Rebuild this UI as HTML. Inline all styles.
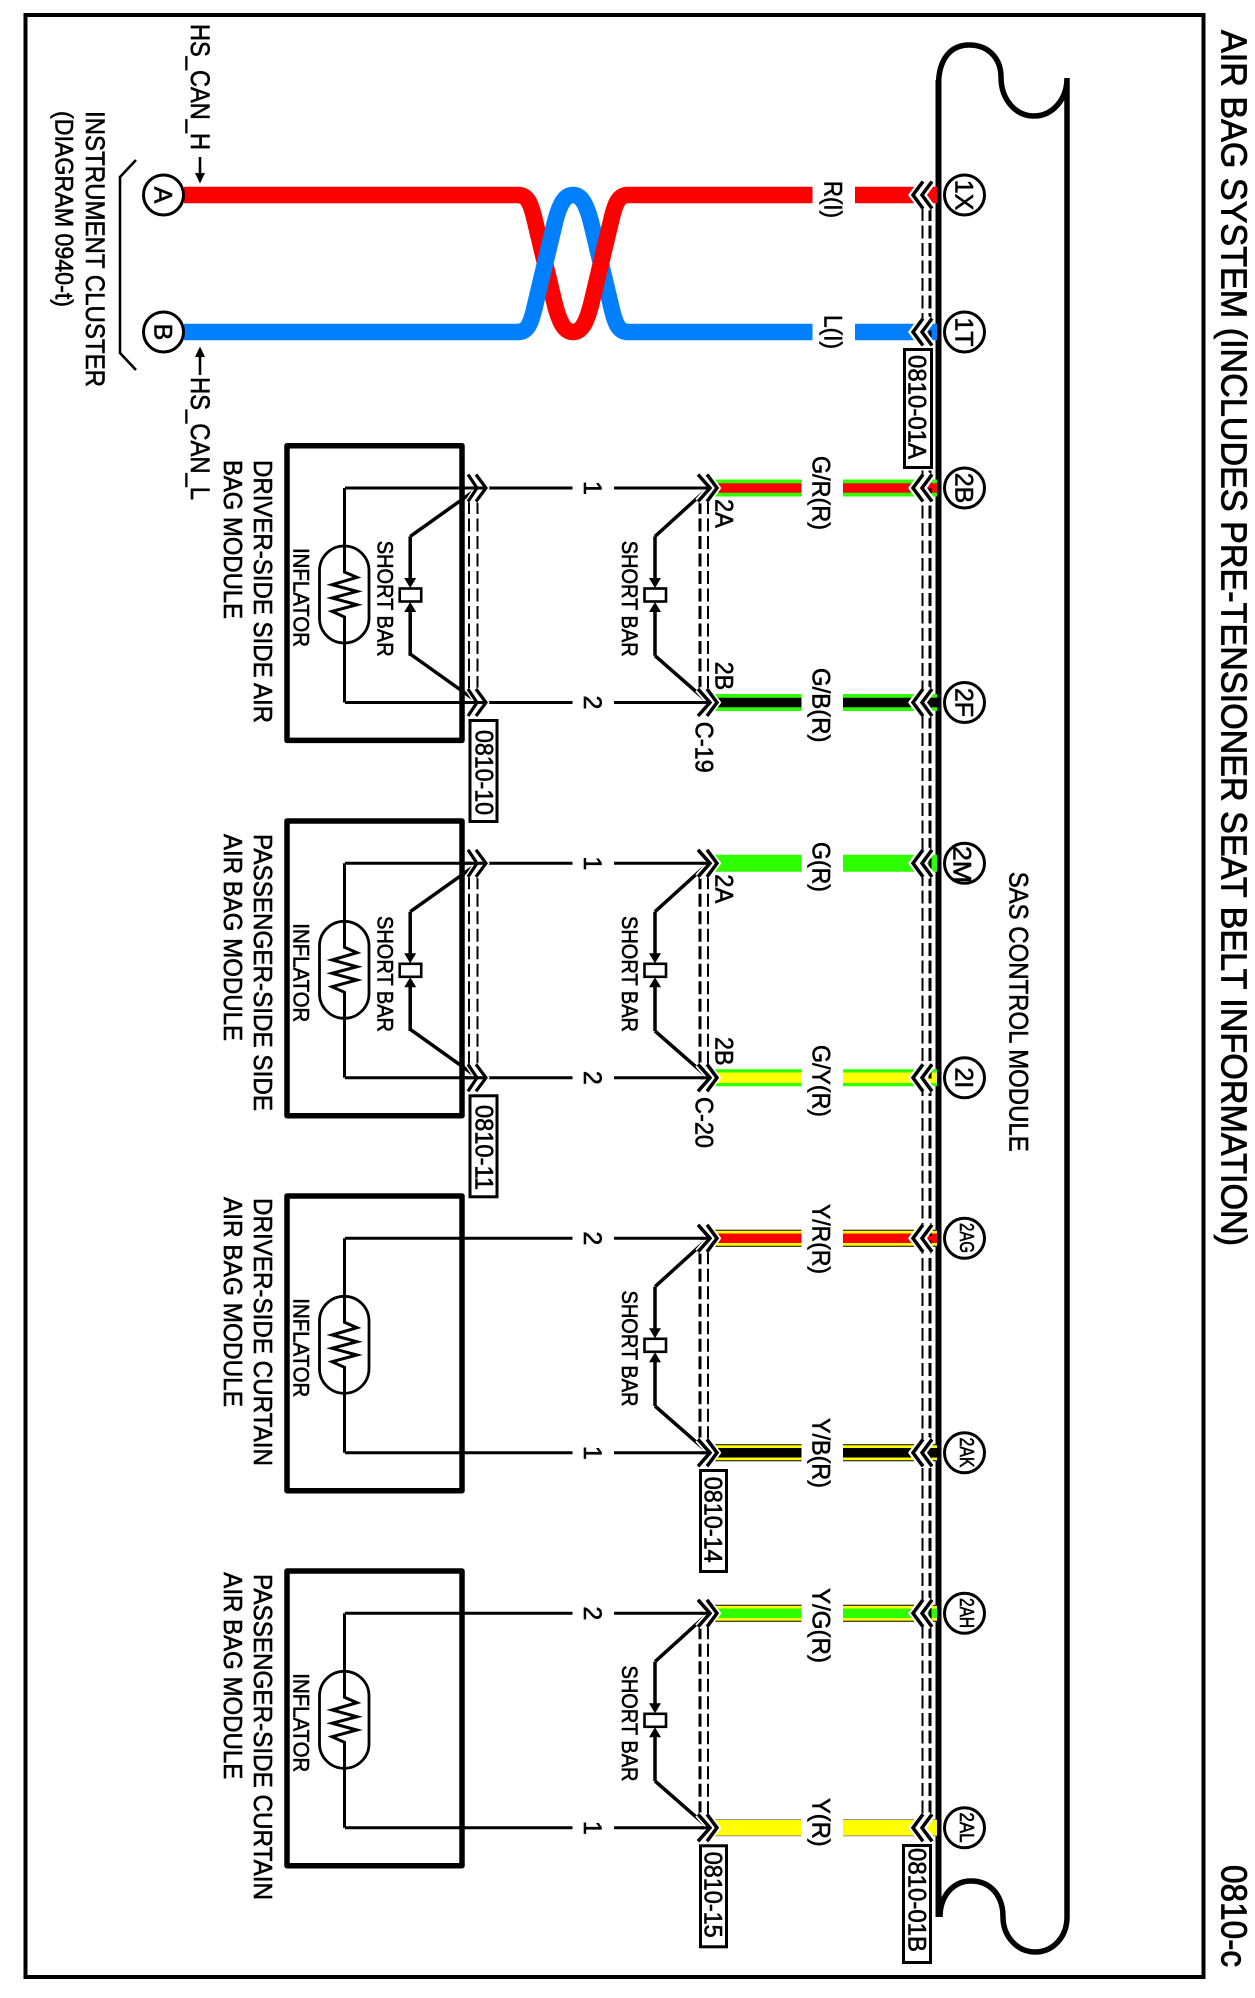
<!DOCTYPE html>
<html><head><meta charset="utf-8"><title>Air Bag System 0810-c</title>
<style>html,body{margin:0;padding:0;background:#fff}svg{display:block}
text{font-family:"Liberation Sans",sans-serif;fill:#000;stroke:#000;stroke-width:.6}
</style></head><body>
<svg xmlns="http://www.w3.org/2000/svg" width="1255" height="1998" viewBox="0 0 1255 1998">
<defs>
<g id="cr"><path d="M923-13.5 913 0 923 13.5M932-13.5 922 0 932 13.5" fill="none" stroke="#fff" stroke-width="8"/><path d="M923-13.5 913 0 923 13.5M932-13.5 922 0 932 13.5" fill="none" stroke="#000" stroke-width="3.5"/></g>
<g id="cl"><path d="M698-13.5 710 0 698 13.5M707-13.5 717 0 707 13.5" fill="none" stroke="#fff" stroke-width="7"/><path d="M700 0H710" stroke="#000" stroke-width="3"/><path d="M698-13.5 710 0 698 13.5M707-13.5 717 0 707 13.5" fill="none" stroke="#000" stroke-width="3.5"/></g>
<g id="cm"><path d="M468-13.5 477 0 468 13.5M476-13.5 486 0 476 13.5" fill="none" stroke="#fff" stroke-width="6"/><path d="M465 0H486" stroke="#000" stroke-width="3"/><path d="M468-13.5 477 0 468 13.5M476-13.5 486 0 476 13.5" fill="none" stroke="#000" stroke-width="3.2"/></g>
<g id="sb"><path d="M655 48.4V92M655 167.7V122" fill="none" stroke="#000" stroke-width="3.5"/><path d="M649 90H661L655 100ZM649 124H661L655 114Z" fill="#000"/><rect x="644.5" y="100.5" width="21.5" height="13" fill="#fff" stroke="#000" stroke-width="2.6"/></g>
<g id="box"><rect x="287" y="-42.3" width="175" height="294.7" fill="none" stroke="#000" stroke-width="5.5" stroke-linejoin="round"/></g>
<g id="inf"><rect x="319.5" y="58" width="49.5" height="97" rx="24.7" fill="none" stroke="#000" stroke-width="2.8"/><path d="M344.5 0V84L357 89.4 332 96.7 357 103.4 332 110 357 116.7 332 123.4 344.5 129V214.5" fill="none" stroke="#000" stroke-width="3"/></g>
</defs>

<rect x="25.5" y="15" width="1178" height="1962" fill="none" stroke="#000" stroke-width="4"/>

<!-- title -->
<text transform="translate(1221.5 30) rotate(90)" font-size="36" textLength="1216" lengthAdjust="spacingAndGlyphs" style="stroke-width:.8">AIR BAG SYSTEM (INCLUDES PRE-TENSIONER SEAT BELT INFORMATION)</text>
<text transform="translate(1221.5 1865) rotate(90)" font-size="36" textLength="102" lengthAdjust="spacingAndGlyphs" style="stroke-width:.8">0810-c</text>

<!-- SAS module body -->
<path d="M938.5 1917V85C938.5 60 950 45 969 45 990 45 1001 60 1001 77 1001 100 1016 116 1034 116 1052 116 1067 100 1067 78V1917C1067 1937 1053 1952 1035 1952 1018 1952 1003 1937 1003 1917 1003 1895 990 1881 971 1881 954 1881 940 1895 940 1917" fill="none" stroke="#000" stroke-width="5.5"/>
<path d="M938.5 80V1917" fill="none" stroke="#000" stroke-width="6"/>
<text transform="translate(1009.5 871.7) rotate(90)" font-size="27" textLength="280" lengthAdjust="spacingAndGlyphs">SAS CONTROL MODULE</text>

<!-- twisted CAN wires -->
<path d="M184 332H518C528 332 531 322 534 310L555 222C560 203 565 195 573 195 581 195 586 203 591 222L612 310C615 322 618 332 628 332H812.5M855 332H937" fill="none" stroke="#0080ff" stroke-width="16.5"/>
<path d="M184 195H518C528 195 531 205 534 217L555 305C560 324 565 332 573 332 581 332 586 324 591 305L612 217C615 205 618 195 628 195H812.5M855 195H937" fill="none" stroke="#f00" stroke-width="16.5"/>
<path d="M534 310L555 222" fill="none" stroke="#0080ff" stroke-width="16.5"/>

<!-- coloured wires -->
<g fill="none">
<path d="M715 488H801.5M843 488H937" stroke="#2eff00" stroke-width="17"/><path d="M715 488H801.5M843 488H937" stroke="#f00" stroke-width="9.5"/>
<path d="M715 702.5H801.5M843 702.5H937" stroke="#2eff00" stroke-width="17"/><path d="M715 702.5H801.5M843 702.5H937" stroke="#000" stroke-width="9.5"/>
<path d="M715 863.3H801.5M843 863.3H937" stroke="#2eff00" stroke-width="17"/>
<path d="M715 1077.8H801.5M843 1077.8H937" stroke="#2eff00" stroke-width="17"/><path d="M715 1077.8H801.5M843 1077.8H937" stroke="#ff0" stroke-width="10.5"/>
<path d="M715 1238.3H801.5M843 1238.3H937" stroke="#000" stroke-width="17"/><path d="M715 1238.3H801.5M843 1238.3H937" stroke="#ff0" stroke-width="15"/><path d="M715 1238.3H801.5M843 1238.3H937" stroke="#f00" stroke-width="9.5"/>
<path d="M715 1452.8H801.5M843 1452.8H937" stroke="#000" stroke-width="17"/><path d="M715 1452.8H801.5M843 1452.8H937" stroke="#ff0" stroke-width="15"/><path d="M715 1452.8H801.5M843 1452.8H937" stroke="#000" stroke-width="9.5"/>
<path d="M715 1613.3H801.5M843 1613.3H937" stroke="#000" stroke-width="17"/><path d="M715 1613.3H801.5M843 1613.3H937" stroke="#ff0" stroke-width="15"/><path d="M715 1613.3H801.5M843 1613.3H937" stroke="#2eff00" stroke-width="9.5"/>
<path d="M715 1827.8H801.5M843 1827.8H937" stroke="#777" stroke-width="17"/><path d="M715 1827.8H801.5M843 1827.8H937" stroke="#ff0" stroke-width="15.5"/>
</g>

<!-- right shield -->
<path d="M922.5 208V1815" fill="none" stroke="#000" stroke-width="2" stroke-dasharray="13 4.5"/>
<path d="M930 208V1815" fill="none" stroke="#000" stroke-width="3" stroke-dasharray="13 4.5"/>

<!-- right connectors -->
<use href="#cr" y="195"/><use href="#cr" y="332"/><use href="#cr" y="488"/><use href="#cr" y="702.5"/>
<use href="#cr" y="863.3"/><use href="#cr" y="1077.8"/><use href="#cr" y="1238.3"/><use href="#cr" y="1452.8"/>
<use href="#cr" y="1613.3"/><use href="#cr" y="1827.8"/>

<!-- module groups -->
<g transform="translate(0 488)"><use href="#box"/><use href="#inf"/>
<path d="M345 0H572.5M614 0H705M345 214.5H572.5M614 214.5H705" fill="none" stroke="#000" stroke-width="3"/>
<path d="M469 13V201" fill="none" stroke="#000" stroke-width="2" stroke-dasharray="13 4.5"/><path d="M477.5 13V201" fill="none" stroke="#000" stroke-width="2" stroke-dasharray="13 4.5"/>
<path d="M410.2 48.4L474 3M410.2 166L474 211.5" fill="none" stroke="#000" stroke-width="3.5"/>
<use href="#sb" x="-244.8"/>
<path d="M700 13V201" fill="none" stroke="#000" stroke-width="3" stroke-dasharray="13 4.5"/><path d="M708 13V201" fill="none" stroke="#000" stroke-width="2" stroke-dasharray="13 4.5"/>
<path d="M655 48.4L705 3M655 167.7L705 211.5" fill="none" stroke="#000" stroke-width="3.5"/><use href="#sb"/>
<use href="#cm"/><use href="#cm" y="214.5"/><use href="#cl"/><use href="#cl" y="214.5"/></g>

<g transform="translate(0 863.3)"><use href="#box"/><use href="#inf"/>
<path d="M345 0H572.5M614 0H705M345 214.5H572.5M614 214.5H705" fill="none" stroke="#000" stroke-width="3"/>
<path d="M469 13V201" fill="none" stroke="#000" stroke-width="2" stroke-dasharray="13 4.5"/><path d="M477.5 13V201" fill="none" stroke="#000" stroke-width="2" stroke-dasharray="13 4.5"/>
<path d="M410.2 48.4L474 3M410.2 166L474 211.5" fill="none" stroke="#000" stroke-width="3.5"/>
<use href="#sb" x="-244.8"/>
<path d="M700 13V201" fill="none" stroke="#000" stroke-width="3" stroke-dasharray="13 4.5"/><path d="M708 13V201" fill="none" stroke="#000" stroke-width="2" stroke-dasharray="13 4.5"/>
<path d="M655 48.4L705 3M655 167.7L705 211.5" fill="none" stroke="#000" stroke-width="3.5"/><use href="#sb"/>
<use href="#cm"/><use href="#cm" y="214.5"/><use href="#cl"/><use href="#cl" y="214.5"/></g>

<g transform="translate(0 1238.3)"><use href="#box"/><use href="#inf"/>
<path d="M345 0H572.5M614 0H705M345 214.5H572.5M614 214.5H705" fill="none" stroke="#000" stroke-width="3"/>
<path d="M700 13V201" fill="none" stroke="#000" stroke-width="3" stroke-dasharray="13 4.5"/><path d="M708 13V201" fill="none" stroke="#000" stroke-width="2" stroke-dasharray="13 4.5"/>
<path d="M655 48.4L705 3M655 167.7L705 211.5" fill="none" stroke="#000" stroke-width="3.5"/><use href="#sb"/>
<use href="#cl"/><use href="#cl" y="214.5"/></g>

<g transform="translate(0 1613.3)"><use href="#box"/><use href="#inf"/>
<path d="M345 0H572.5M614 0H705M345 214.5H572.5M614 214.5H705" fill="none" stroke="#000" stroke-width="3"/>
<path d="M700 13V201" fill="none" stroke="#000" stroke-width="3" stroke-dasharray="13 4.5"/><path d="M708 13V201" fill="none" stroke="#000" stroke-width="2" stroke-dasharray="13 4.5"/>
<path d="M655 48.4L705 3M655 167.7L705 211.5" fill="none" stroke="#000" stroke-width="3.5"/><use href="#sb"/>
<use href="#cl"/><use href="#cl" y="214.5"/></g>

<!-- circles -->
<g fill="#fff" stroke="#000" stroke-width="3">
<circle cx="964.5" cy="195" r="20"/><circle cx="964.5" cy="332" r="20"/><circle cx="964.5" cy="488" r="20"/><circle cx="964.5" cy="702.5" r="20"/>
<circle cx="964.5" cy="863.3" r="20"/><circle cx="964.5" cy="1077.8" r="20"/><circle cx="964.5" cy="1238.3" r="20"/><circle cx="964.5" cy="1452.8" r="20"/>
<circle cx="964.5" cy="1613.3" r="20"/><circle cx="964.5" cy="1827.8" r="20"/>
<circle cx="163.5" cy="195" r="20"/><circle cx="163.5" cy="332" r="20"/>
</g>
<g font-size="25" text-anchor="middle">
<text transform="translate(955.5 195) rotate(90)">1X</text>
<text transform="translate(955.5 332) rotate(90)">1T</text>
<text transform="translate(955.5 488) rotate(90)">2B</text>
<text transform="translate(955.5 702.5) rotate(90)">2F</text>
<text transform="translate(955.5 1077.8) rotate(90)">2I</text>
<text transform="translate(154.5 195) rotate(90)">A</text>
<text transform="translate(154.5 332) rotate(90)">B</text>
</g>
<text transform="translate(953.5 846) rotate(90)" font-size="25" textLength="37" lengthAdjust="spacingAndGlyphs">2M</text>
<g font-size="20">
<text transform="translate(960 1223) rotate(90)" textLength="30" lengthAdjust="spacingAndGlyphs">2AG</text>
<text transform="translate(960 1437.5) rotate(90)" textLength="30" lengthAdjust="spacingAndGlyphs">2AK</text>
<text transform="translate(960 1598) rotate(90)" textLength="30" lengthAdjust="spacingAndGlyphs">2AH</text>
<text transform="translate(960 1812.5) rotate(90)" textLength="30" lengthAdjust="spacingAndGlyphs">2AL</text>
</g>

<!-- wire labels -->
<g font-size="25">
<text transform="translate(824.5 181) rotate(90)" textLength="37" lengthAdjust="spacingAndGlyphs">R(I)</text>
<text transform="translate(824.5 315) rotate(90)" textLength="34" lengthAdjust="spacingAndGlyphs">L(I)</text>
<text transform="translate(812.5 456) rotate(90)" textLength="74" lengthAdjust="spacingAndGlyphs">G/R(R)</text>
<text transform="translate(812.5 668) rotate(90)" textLength="74.5" lengthAdjust="spacingAndGlyphs">G/B(R)</text>
<text transform="translate(812.5 842) rotate(90)" textLength="50" lengthAdjust="spacingAndGlyphs">G(R)</text>
<text transform="translate(812.5 1045) rotate(90)" textLength="72" lengthAdjust="spacingAndGlyphs">G/Y(R)</text>
<text transform="translate(812.5 1204) rotate(90)" textLength="70" lengthAdjust="spacingAndGlyphs">Y/R(R)</text>
<text transform="translate(812.5 1418) rotate(90)" textLength="70" lengthAdjust="spacingAndGlyphs">Y/B(R)</text>
<text transform="translate(812.5 1588) rotate(90)" textLength="75" lengthAdjust="spacingAndGlyphs">Y/G(R)</text>
<text transform="translate(812.5 1798) rotate(90)" textLength="48.7" lengthAdjust="spacingAndGlyphs">Y(R)</text>
<text transform="translate(715.5 499) rotate(90)" textLength="29" lengthAdjust="spacingAndGlyphs">2A</text>
<text transform="translate(715.5 661.7) rotate(90)" textLength="28.5" lengthAdjust="spacingAndGlyphs">2B</text>
<text transform="translate(715.5 874.3) rotate(90)" textLength="29" lengthAdjust="spacingAndGlyphs">2A</text>
<text transform="translate(715.5 1037) rotate(90)" textLength="28.5" lengthAdjust="spacingAndGlyphs">2B</text>
<text transform="translate(695.5 721.7) rotate(90)" textLength="51" lengthAdjust="spacingAndGlyphs">C-19</text>
<text transform="translate(695.5 1097) rotate(90)" textLength="51" lengthAdjust="spacingAndGlyphs">C-20</text>
<g text-anchor="middle">
<text transform="translate(584 488) rotate(90)">1</text><text transform="translate(584 702.5) rotate(90)">2</text>
<text transform="translate(584 863.3) rotate(90)">1</text><text transform="translate(584 1077.8) rotate(90)">2</text>
<text transform="translate(584 1238.3) rotate(90)">2</text><text transform="translate(584 1452.8) rotate(90)">1</text>
<text transform="translate(584 1613.3) rotate(90)">2</text><text transform="translate(584 1827.8) rotate(90)">1</text>
</g>
</g>

<!-- short bar + inflator labels -->
<g font-size="22">
<text transform="translate(377.5 540.7) rotate(90)" textLength="116" lengthAdjust="spacingAndGlyphs">SHORT BAR</text>
<text transform="translate(622 540.7) rotate(90)" textLength="116" lengthAdjust="spacingAndGlyphs">SHORT BAR</text>
<text transform="translate(377.5 916) rotate(90)" textLength="116" lengthAdjust="spacingAndGlyphs">SHORT BAR</text>
<text transform="translate(622 916) rotate(90)" textLength="116" lengthAdjust="spacingAndGlyphs">SHORT BAR</text>
<text transform="translate(622 1290.5) rotate(90)" textLength="116" lengthAdjust="spacingAndGlyphs">SHORT BAR</text>
<text transform="translate(622 1665.5) rotate(90)" textLength="116" lengthAdjust="spacingAndGlyphs">SHORT BAR</text>
<text transform="translate(293.5 548) rotate(90)" textLength="99" lengthAdjust="spacingAndGlyphs">INFLATOR</text>
<text transform="translate(293.5 923.3) rotate(90)" textLength="99" lengthAdjust="spacingAndGlyphs">INFLATOR</text>
<text transform="translate(293.5 1298.3) rotate(90)" textLength="99" lengthAdjust="spacingAndGlyphs">INFLATOR</text>
<text transform="translate(293.5 1673.3) rotate(90)" textLength="99" lengthAdjust="spacingAndGlyphs">INFLATOR</text>
</g>

<!-- module labels -->
<g font-size="26">
<text transform="translate(254 460) rotate(90)" textLength="263" lengthAdjust="spacingAndGlyphs">DRIVER-SIDE SIDE AIR</text>
<text transform="translate(224 460) rotate(90)" textLength="159" lengthAdjust="spacingAndGlyphs">BAG MODULE</text>
<text transform="translate(254 834) rotate(90)" textLength="277" lengthAdjust="spacingAndGlyphs">PASSENGER-SIDE SIDE</text>
<text transform="translate(224 834) rotate(90)" textLength="207" lengthAdjust="spacingAndGlyphs">AIR BAG MODULE</text>
<text transform="translate(254 1198) rotate(90)" textLength="268" lengthAdjust="spacingAndGlyphs">DRIVER-SIDE CURTAIN</text>
<text transform="translate(224 1197) rotate(90)" textLength="210" lengthAdjust="spacingAndGlyphs">AIR BAG MODULE</text>
<text transform="translate(254 1574) rotate(90)" textLength="326" lengthAdjust="spacingAndGlyphs">PASSENGER-SIDE CURTAIN</text>
<text transform="translate(224 1572.3) rotate(90)" textLength="207" lengthAdjust="spacingAndGlyphs">AIR BAG MODULE</text>
<text transform="translate(86 111) rotate(90)" font-size="27" textLength="276" lengthAdjust="spacingAndGlyphs">INSTRUMENT CLUSTER</text>
<text transform="translate(55.5 111) rotate(90)" font-size="25" textLength="196" lengthAdjust="spacingAndGlyphs">(DIAGRAM 0940-t)</text>
<text transform="translate(191 24) rotate(90)" font-size="27" textLength="126" lengthAdjust="spacingAndGlyphs">HS_CAN_H</text>
<text transform="translate(191 377) rotate(90)" font-size="27" textLength="123" lengthAdjust="spacingAndGlyphs">HS_CAN_L</text>
</g>

<!-- HS_CAN arrows + bracket -->
<path d="M200 157V175M200 356V375" fill="none" stroke="#000" stroke-width="2.6"/>
<path d="M195 173H205L200 183.5ZM195 357H205L200 346.5Z" fill="#000"/>
<path d="M136 160L120 177V353L136 370" fill="none" stroke="#000" stroke-width="2.6"/>

<!-- reference boxes -->
<g fill="#fff" stroke="#000" stroke-width="3">
<rect x="904.5" y="349.5" width="27" height="118"/>
<rect x="903.5" y="1845.5" width="27" height="117"/>
<rect x="470" y="720.5" width="27" height="101"/>
<rect x="470" y="1095.8" width="27" height="101"/>
<rect x="700.5" y="1470.5" width="26" height="101"/>
<rect x="700.5" y="1845.8" width="26" height="101"/>
</g>
<g font-size="25">
<text transform="translate(908.5 355) rotate(90)" textLength="104" lengthAdjust="spacingAndGlyphs">0810-01A</text>
<text transform="translate(908.5 1848) rotate(90)" textLength="104" lengthAdjust="spacingAndGlyphs">0810-01B</text>
<text transform="translate(475.5 730) rotate(90)" textLength="85" lengthAdjust="spacingAndGlyphs">0810-10</text>
<text transform="translate(475.5 1105) rotate(90)" textLength="85" lengthAdjust="spacingAndGlyphs">0810-11</text>
<text transform="translate(704.5 1476.7) rotate(90)" textLength="86" lengthAdjust="spacingAndGlyphs">0810-14</text>
<text transform="translate(704.5 1851.7) rotate(90)" textLength="86" lengthAdjust="spacingAndGlyphs">0810-15</text>
</g>
</svg>
</body></html>
